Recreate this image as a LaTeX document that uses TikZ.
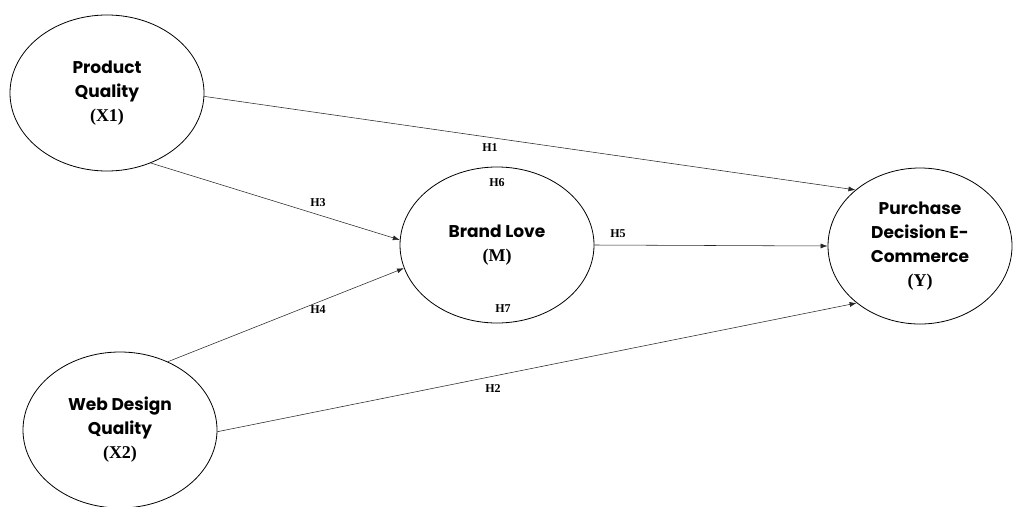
\documentclass[tikz,border=0pt]{standalone}
\usepackage{fontspec}
\setmainfont{Liberation Serif}
\newfontfamily\gothic{Poppins}
\usetikzlibrary{shapes.geometric,arrows.meta}
\tikzset{
  construct/.style={draw=black, line width=0.8pt, ellipse, inner sep=0pt, minimum width=194pt, minimum height=156pt, align=center, font=\fontsize{17}{24}\selectfont},
  path/.style={draw=black!85, line width=0.55pt, -{Latex[length=7pt,width=5pt]}},
  hlabel/.style={font=\bfseries\fontsize{12}{13}\selectfont, inner sep=0pt}
}
\newcommand{\gt}[1]{{\gothic\bfseries #1}}
\newcommand{\tb}[1]{{\bfseries\fontsize{18}{24}\selectfont #1}}
\begin{document}
\begin{tikzpicture}[x=1pt,y=1pt]
\useasboundingbox (0,0) rectangle (1014,-506);
\node[construct] (X1) at (107,-93) {\gt{Product}\\\gt{Quality}\\\tb{(X1)}};
\node[construct] (X2) at (120,-430) {\gt{Web Design}\\\gt{Quality}\\\tb{(X2)}};
\node[construct] (M) at (497,-245) {\gt{Brand Love}\\\tb{(M)}};
\node[construct, minimum width=184pt, minimum height=156pt] (Y) at (920,-246) {\gt{Purchase}\\\gt{Decision E-}\\\gt{Commerce}\\\tb{(Y)}};
\draw[path] (X1.-2) -- (Y.139);
\draw[path] (X1.-58) -- (M.177);
\draw[path] (X2.55) -- (M.194);
\draw[path] (M.0) -- (Y.180);
\draw[path] (X2.-1) -- (Y.222);
\node[hlabel] (h1) at (490,-148) {H1};
\node[hlabel] (h3) at (318,-203) {H3};
\node[hlabel] (h6) at (497,-183) {H6};
\node[hlabel] (h5) at (618,-234) {H5};
\node[hlabel] (h4) at (318,-310) {H4};
\node[hlabel] (h7) at (503,-309) {H7};
\node[hlabel] (h2) at (493,-389) {H2};
\end{tikzpicture}
\end{document}
